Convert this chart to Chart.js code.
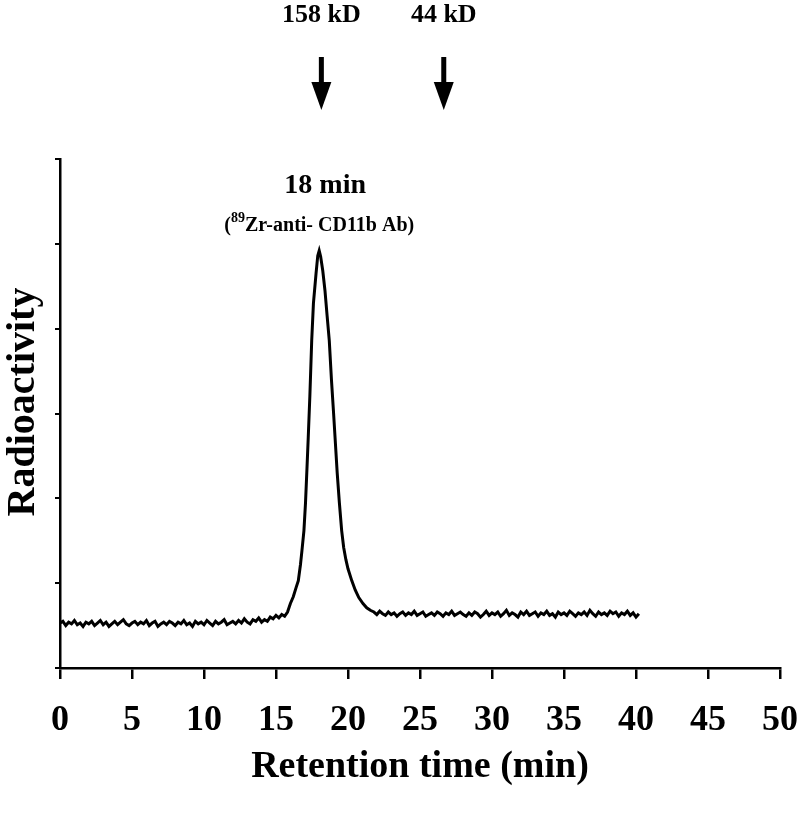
<!DOCTYPE html>
<html>
<head>
<meta charset="utf-8">
<script src="https://cdn.jsdelivr.net/npm/chart.js@4/dist/chart.umd.min.js"></script>
<style>
  html, body { margin: 0; padding: 0; background: #fff; }
  #wrap { width: 800px; height: 816px; position: relative; }
</style>
</head>
<body>
<div id="wrap"><canvas id="chart"></canvas></div>
<script>
// x ticks (min)
const xTicks = [0, 5, 10, 15, 20, 25, 30, 35, 40, 45, 50];

// baseline before the peak, sampled every 0.2 min from 0.0 min
const leftStart = 0.0;
const leftBaseline = [
  0.53, 0.55, 0.50, 0.54, 0.52, 0.56, 0.51, 0.53, 0.49, 0.54,
  0.52, 0.55, 0.50, 0.53, 0.56, 0.51, 0.54, 0.49, 0.52, 0.55,
  0.51, 0.54, 0.57, 0.52, 0.50, 0.53, 0.55, 0.51, 0.54, 0.52,
  0.56, 0.50, 0.53, 0.55, 0.49, 0.52, 0.54, 0.51, 0.55, 0.53,
  0.50, 0.54, 0.52, 0.56, 0.51, 0.53, 0.49, 0.55, 0.52, 0.54,
  0.51, 0.56, 0.53, 0.50, 0.55, 0.52, 0.54, 0.57, 0.51, 0.53,
  0.55, 0.52, 0.56, 0.53, 0.58, 0.54, 0.52, 0.57, 0.55, 0.59,
  0.54, 0.57, 0.55, 0.60, 0.58, 0.62, 0.59, 0.63, 0.61, 0.66
];

// the 18 min peak
const peakTimes = [
  16.0, 16.2, 16.4, 16.55, 16.7, 16.8, 16.94, 17.05, 17.15, 17.24,
  17.35, 17.48, 17.6, 17.78, 17.9, 18.0, 18.1, 18.25, 18.4, 18.55,
  18.7, 18.85, 19.0, 19.1, 19.25, 19.4, 19.56, 19.7, 19.85, 20.0,
  20.26, 20.5, 20.75, 21.04, 21.3, 21.55
];
const peakValues = [
  0.76, 0.84, 0.95, 1.03, 1.22, 1.38, 1.62, 1.95, 2.35, 2.72,
  3.20, 3.86, 4.30, 4.65, 4.86, 4.92, 4.85, 4.68, 4.45, 4.15,
  3.86, 3.40, 3.00, 2.72, 2.30, 1.95, 1.62, 1.42, 1.28, 1.17,
  1.03, 0.92, 0.83, 0.76, 0.71, 0.68
];

// baseline after the peak, sampled every 0.2 min from 21.8 min
const rightStart = 21.8;
const rightBaseline = [
  0.66, 0.63, 0.67, 0.64, 0.62, 0.66, 0.63, 0.65, 0.61, 0.64,
  0.66, 0.62, 0.65, 0.63, 0.67, 0.62, 0.64, 0.66, 0.61, 0.63,
  0.65, 0.62, 0.66, 0.64, 0.61, 0.65, 0.63, 0.67, 0.62, 0.64,
  0.66, 0.63, 0.61, 0.65, 0.62, 0.66, 0.64, 0.60, 0.63, 0.67,
  0.62, 0.65, 0.63, 0.66, 0.61, 0.64, 0.68, 0.62, 0.65, 0.63,
  0.60, 0.66, 0.63, 0.67, 0.62, 0.64, 0.66, 0.61, 0.65, 0.63,
  0.67, 0.62, 0.64, 0.60, 0.66, 0.63, 0.65, 0.62, 0.67, 0.64,
  0.61, 0.65, 0.63, 0.66, 0.62, 0.68, 0.64, 0.61, 0.66, 0.63,
  0.65, 0.62, 0.67, 0.64, 0.66, 0.61, 0.65, 0.63, 0.67, 0.62,
  0.65, 0.60, 0.64
];

// molecular weight markers
const markerLabels = ['158 kD', '44 kD'];
const markerTimes = [18.15, 26.65];

const serif = '"Liberation Serif", "Times New Roman", serif';

// build the point list
const points = [];
leftBaseline.forEach((v, i) => points.push({ x: +(leftStart + i * 0.2).toFixed(2), y: v }));
peakTimes.forEach((t, i) => points.push({ x: t, y: peakValues[i] }));
rightBaseline.forEach((v, i) => points.push({ x: +(rightStart + i * 0.2).toFixed(2), y: v }));

// arrows, peak label and axis titles
const annotations = {
  id: 'annotations',
  afterDraw(chart) {
    const ctx = chart.ctx;
    const xs = chart.scales.x;
    ctx.save();
    ctx.fillStyle = '#000';
    ctx.textAlign = 'center';
    ctx.textBaseline = 'middle';

    // marker arrows
    markerLabels.forEach((lbl, i) => {
      const x = xs.getPixelForValue(markerTimes[i]);
      ctx.font = 'bold 26px ' + serif;
      ctx.fillText(lbl, x, 15);
      ctx.fillRect(x - 2.5, 57, 5, 27);
      ctx.beginPath();
      ctx.moveTo(x - 10, 82);
      ctx.lineTo(x + 10, 82);
      ctx.lineTo(x, 110);
      ctx.closePath();
      ctx.fill();
    });

    // peak label
    const px = xs.getPixelForValue(18);
    ctx.font = 'bold 28px ' + serif;
    ctx.fillText('18 min', px + 6, 186);

    const a = '(', sup = '89', b = 'Zr-anti- CD11b Ab)';
    ctx.font = 'bold 20px ' + serif;
    const wa = ctx.measureText(a).width;
    const wb = ctx.measureText(b).width;
    ctx.font = 'bold 14px ' + serif;
    const ws = ctx.measureText(sup).width;
    const x0 = px - (wa + ws + wb) / 2;
    ctx.textAlign = 'left';
    ctx.font = 'bold 20px ' + serif;
    ctx.fillText(a, x0, 226);
    ctx.font = 'bold 14px ' + serif;
    ctx.fillText(sup, x0 + wa, 218);
    ctx.font = 'bold 20px ' + serif;
    ctx.fillText(b, x0 + wa + ws, 226);

    // axis titles
    ctx.textAlign = 'center';
    ctx.font = 'bold 38px ' + serif;
    const area = chart.chartArea;
    ctx.fillText('Retention time (min)', (area.left + area.right) / 2, 767);
    ctx.font = 'bold 40px ' + serif;
    ctx.translate(24, 402);
    ctx.rotate(-Math.PI / 2);
    ctx.fillText('Radioactivity', 0, 0);
    ctx.restore();
  }
};

new Chart(document.getElementById('chart'), {
  type: 'line',
  data: {
    datasets: [{
      data: points,
      borderColor: '#000',
      borderWidth: 3,
      pointRadius: 0,
      tension: 0,
      fill: false
    }]
  },
  options: {
    responsive: true,
    maintainAspectRatio: false,
    animation: false,
    layout: { padding: { top: 159, right: 20, left: 0, bottom: 0 } },
    plugins: {
      legend: { display: false },
      tooltip: { enabled: false }
    },
    scales: {
      x: {
        type: 'linear',
        min: 0,
        max: 50,
        afterBuildTicks: s => { s.ticks = xTicks.map(v => ({ value: v })); },
        afterFit: s => { s.height = 148; s.paddingLeft = 0; s.paddingRight = 0; },
        border: { display: true, color: '#000', width: 2.5 },
        grid: { drawOnChartArea: false, drawTicks: true, tickLength: 11, color: '#000', lineWidth: 2.5 },
        ticks: {
          color: '#000',
          padding: 20,
          maxRotation: 0,
          font: { family: serif, size: 36, weight: 'bold' }
        }
      },
      y: {
        min: 0,
        max: 6,
        afterFit: s => { s.width = 60; s.paddingTop = 0; s.paddingBottom = 0; },
        border: { display: true, color: '#000', width: 2.5 },
        grid: { drawOnChartArea: false, drawTicks: true, tickLength: 5, color: '#000', lineWidth: 2 },
        ticks: { display: false, stepSize: 1 }
      }
    }
  },
  plugins: [annotations]
});
</script>
</body>
</html>
